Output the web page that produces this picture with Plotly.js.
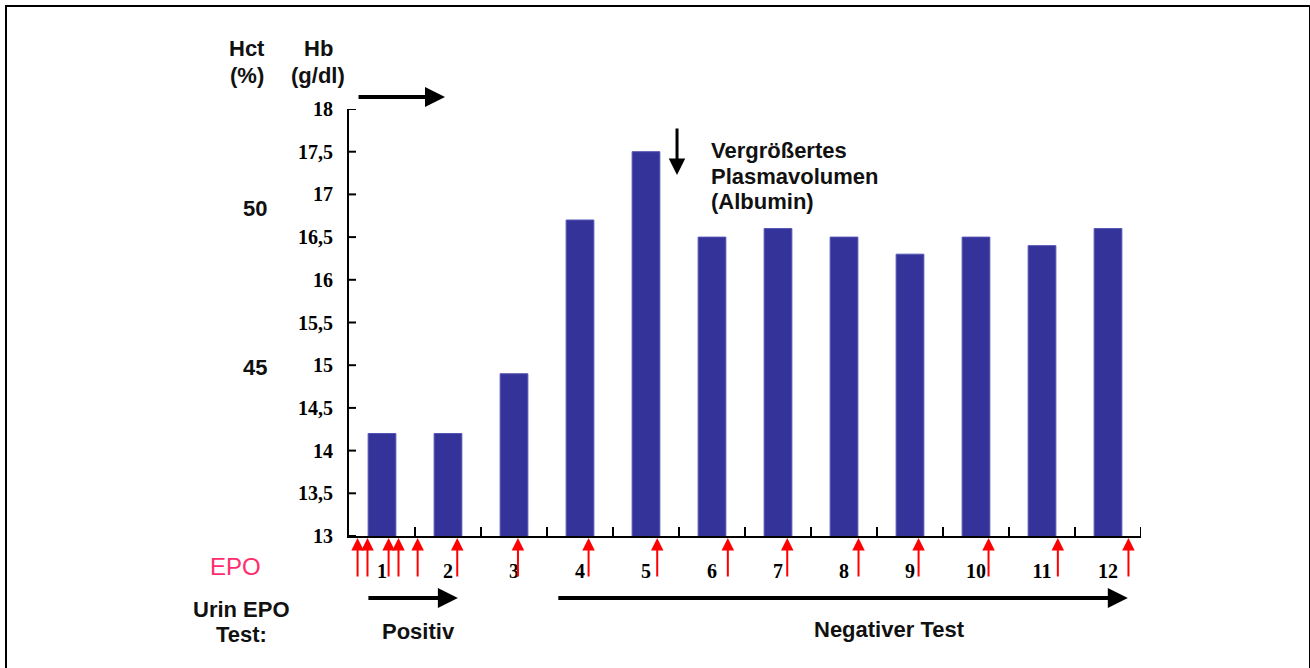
<!DOCTYPE html>
<html>
<head>
<meta charset="utf-8">
<script src="https://cdn.plot.ly/plotly-3.0.1.min.js"></script>
<style>
  html, body { margin: 0; padding: 0; background: #fff; }
  #wrap { position: relative; width: 1310px; height: 668px; }
  #chart { position: absolute; left: 0; top: 0; width: 1310px; height: 668px; }
  #frame { position: absolute; left: 5px; top: 5px; width: 1302px; height: 700px;
           border-left: 2px solid #000; border-top: 2px solid #000; border-right: 2px solid #000;
           pointer-events: none; }
</style>
</head>
<body>
<div id="wrap"><div id="chart"></div><div id="frame"></div></div>
<script>
// ---- data ----
const weeks = [1, 2, 3, 4, 5, 6, 7, 8, 9, 10, 11, 12];
const weekLabels = ['1', '2', '3', '4', '5', '6', '7', '8', '9', '10', '11', '12'];
const hbValues = [14.2, 14.2, 14.9, 16.7, 17.5, 16.5, 16.6, 16.5, 16.3, 16.5, 16.4, 16.6];
const hbTicks = [13, 13.5, 14, 14.5, 15, 15.5, 16, 16.5, 17, 17.5, 18];
const hbTickLabels = ['13', '13,5', '14', '14,5', '15', '15,5', '16', '16,5', '17', '17,5', '18'];
const hctLabels = ['45', '50'];
const hctPositions = [14.97, 16.84];
const epoDays = [0.63, 0.78, 1.10, 1.25, 1.54, 2.14, 3.06, 4.13, 5.17, 6.24, 7.14, 8.22, 9.13, 10.19, 11.24, 12.31];

// ---- layout helpers ----
const W = 1310, H = 668, ML = 349, MR = 169, MT = 109, MB = 132;
const PW = W - ML - MR, PH = H - MT - MB;
const px = x => (x - ML) / PW;            // pixel -> paper x
const py = y => (H - MB - y) / PH;         // pixel -> paper y
const sans = 'Liberation Sans, Arial, sans-serif';
const serif = 'Liberation Serif, Times New Roman, serif';
const ink = '#111111';
const txtFont = { family: sans, size: 22, color: ink, weight: 'bold' };

const bars = {
  type: 'bar', x: weeks, y: hbValues, width: 0.42,
  marker: { color: '#333399', line: { color: '#5555b5', width: 1 } },
  hoverinfo: 'x+y'
};

const shapes = [];
weeks.forEach(w => shapes.push({
  type: 'line', xref: 'x', yref: 'y', x0: w + 0.5, x1: w + 0.5,
  ysizemode: 'pixel', yanchor: hbTicks[0], y0: -9, y1: 9,
  line: { color: '#000', width: 2 }
}));
hbTicks.forEach(t => shapes.push({
  type: 'line', xref: 'x', yref: 'y', y0: t, y1: t,
  xsizemode: 'pixel', xanchor: 0.5, x0: -7, x1: 7,
  line: { color: '#000', width: 2 }
}));

const annotations = [];
function label(text, x, y, font, anchor) {
  annotations.push({ xref: 'paper', yref: 'paper', x: px(x), y: py(y),
    xanchor: anchor || 'center', yanchor: 'middle', text: text, showarrow: false, font: font || txtFont });
}
// header labels
label('Hct', 247, 48); label('(%)', 247, 76);
label('Hb', 318, 48); label('(g/dl)', 318, 76);
// Hct scale labels
hctLabels.forEach((t, i) => annotations.push({ xref: 'paper', yref: 'y', x: px(255), y: hctPositions[i],
  xanchor: 'center', yanchor: 'middle', text: t, showarrow: false, font: txtFont }));
// top arrow
annotations.push({ xref: 'x', yref: 'paper', x: 1.955, y: py(97), ax: -88, ay: 0,
  text: '', showarrow: true, arrowhead: 2, arrowsize: 1.0, arrowwidth: 4, arrowcolor: '#000' });
// down arrow (plasma volume)
annotations.push({ xref: 'x', yref: 'paper', x: 5.47, y: py(175), ax: 0, ay: -48,
  text: '', showarrow: true, arrowhead: 2, arrowsize: 1.1, arrowwidth: 3, arrowcolor: '#000' });
label('Vergrößertes', 709, 150, txtFont, 'left');
label('Plasmavolumen', 709, 176, txtFont, 'left');
label('(Albumin)', 709, 201, txtFont, 'left');
// EPO injections
epoDays.forEach(d => annotations.push({ xref: 'x', yref: 'paper', x: d, y: py(538), ax: 0, ay: 40,
  text: '', showarrow: true, arrowhead: 2, arrowsize: 1.25, arrowwidth: 2, arrowcolor: '#ff0000' }));
label('EPO', 235, 566, { family: sans, size: 24, color: '#ff2d6e' });
label('Urin EPO', 241, 609); label('Test:', 241, 634);
// test result arrows
annotations.push({ xref: 'x', yref: 'paper', x: 2.15, y: py(598), ax: -91, ay: 0,
  text: '', showarrow: true, arrowhead: 2, arrowsize: 1.0, arrowwidth: 4, arrowcolor: '#000' });
annotations.push({ xref: 'x', yref: 'paper', x: 12.30, y: py(598), ax: -571, ay: 0,
  text: '', showarrow: true, arrowhead: 2, arrowsize: 1.0, arrowwidth: 4, arrowcolor: '#000' });
label('Positiv', 418, 631);
label('Negativer Test', 889, 629);

const layout = {
  width: W, height: H,
  margin: { l: ML, r: MR, t: MT, b: MB, pad: 0 },
  paper_bgcolor: '#ffffff', plot_bgcolor: '#ffffff',
  showlegend: false,
  xaxis: {
    range: [0.5, 12.5], showgrid: false, zeroline: false,
    showline: true, linecolor: '#000', linewidth: 2,
    tickmode: 'array', tickvals: weeks, ticktext: weekLabels, ticks: '',
    ticklabelstandoff: 16,
    tickfont: { family: serif, size: 20, color: '#000', weight: 'bold' },
    fixedrange: true
  },
  yaxis: {
    range: [13, 18], showgrid: false, zeroline: false,
    showline: true, linecolor: '#000', linewidth: 2,
    tickmode: 'array', tickvals: hbTicks, ticktext: hbTickLabels, ticks: '',
    ticklabelstandoff: 10,
    tickfont: { family: serif, size: 20, color: '#000', weight: 'bold' },
    fixedrange: true
  },
  shapes: shapes,
  annotations: annotations
};

Plotly.newPlot('chart', [bars], layout, { displayModeBar: false, staticPlot: true });
</script>
</body>
</html>
